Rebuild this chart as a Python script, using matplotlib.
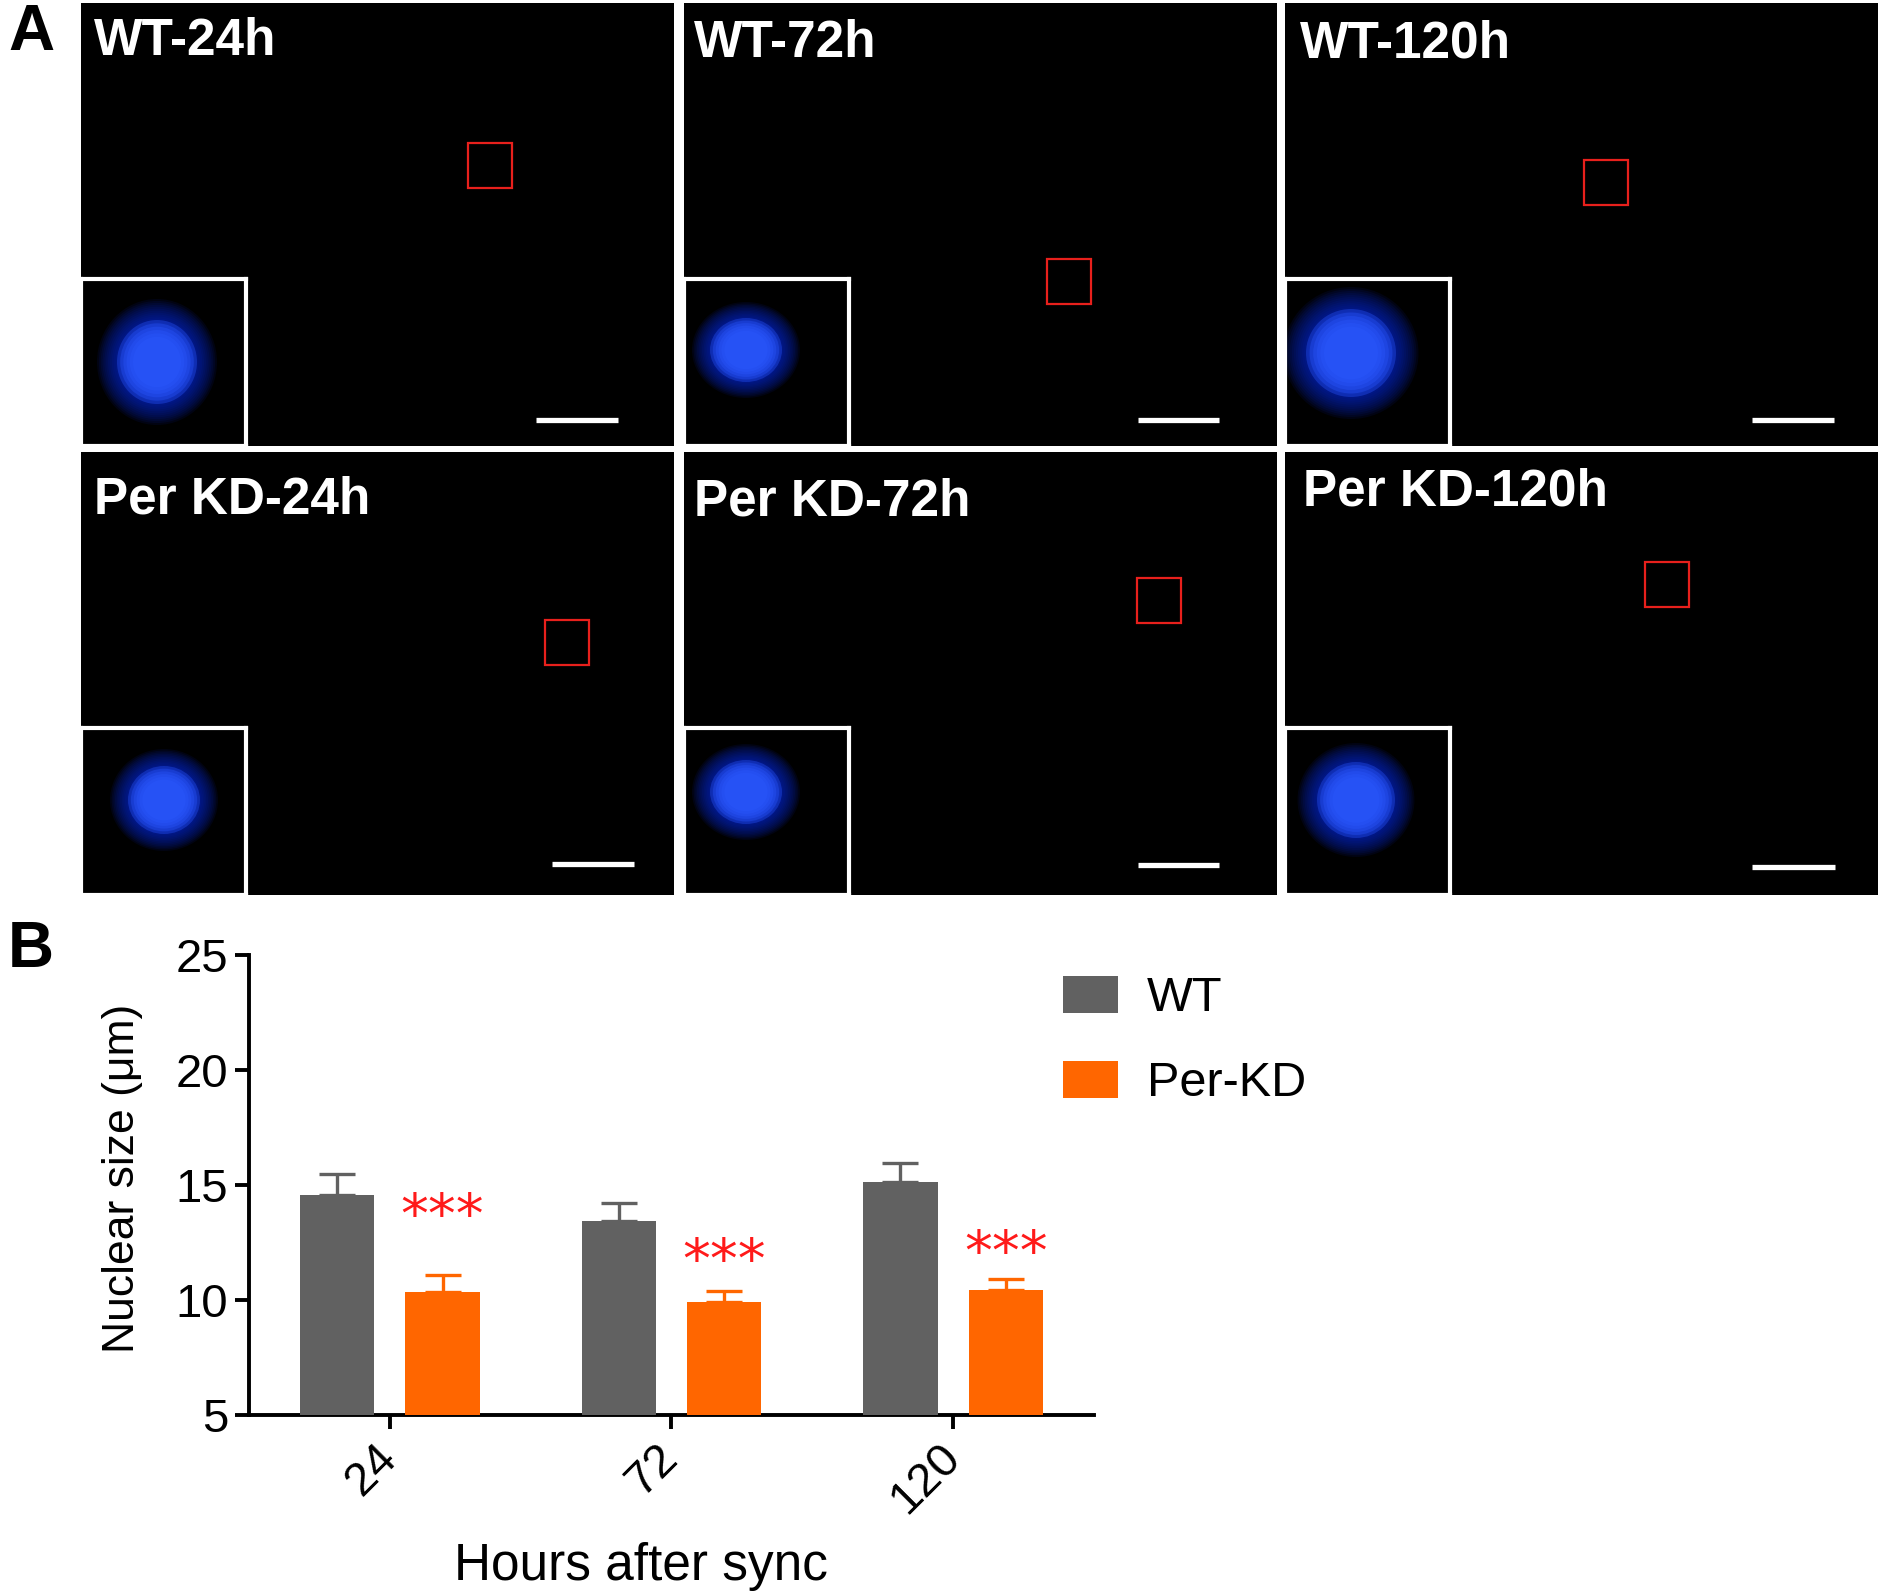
import numpy as np
import matplotlib
matplotlib.use('Agg')
from matplotlib import pyplot as plt
from matplotlib import patches as mpatches

# data
hours = ['24', '72', '120']
groups = ['WT', 'Per-KD']
wt_mean = [14.55, 13.42, 15.14]
wt_sem = [0.95, 0.80, 0.80]
kd_mean = [10.33, 9.90, 10.43]
kd_sem = [0.76, 0.50, 0.47]
star_y = [14.1, 12.15, 12.5]
star_text = ['***', '***', '***']

panel_titles = ['WT-24h', 'WT-72h', 'WT-120h',
                'Per KD-24h', 'Per KD-72h', 'Per KD-120h']

# ---- layout (pixels of the 1882x1594 canvas) ----
W, H = 1882, 1594
cols = [(81, 674), (684, 1277), (1285, 1878)]
rows = [(3, 446), (452, 895)]
# per panel: title pos, red box corner, scale bar (x0, x1, y), nucleus (cx, cy, rx, ry)
title_pos = [(13, 52), (10, 54), (15, 54), (13, 61), (10, 64), (18, 53)]
box_pos = [(387, 140), (363, 256), (299, 157), (464, 168), (453, 126), (360, 110)]
bar_pos = [(455, 537, 417), (454, 535, 417), (467, 549, 417),
           (471, 553, 412), (454, 535, 413), (467, 550, 415)]
nuc = [(76, 83, 40, 42), (62, 71, 36, 32), (66, 74, 45, 44),
       (83, 72, 36, 34), (62, 64, 36, 32), (71, 72, 39, 38)]
INSET_W, INSET_H = 165, 167

GREY = '#616161'
ORANGE = '#ff6600'
RED = '#ff1a1a'


def fbox(x0, y0, x1, y1):
    return [x0 / W, 1 - y1 / H, (x1 - x0) / W, (y1 - y0) / H]


fig = plt.figure(figsize=(W / 100, H / 100), dpi=100)
fig.patch.set_facecolor('white')

# ---- panel A: micrograph frames ----
for i, title in enumerate(panel_titles):
    (x0, x1), (y0, y1) = cols[i % 3], rows[i // 3]
    w, h = x1 - x0, y1 - y0
    ax = fig.add_axes(fbox(x0, y0, x1, y1))
    ax.set_facecolor('black')
    ax.set_xlim(0, w)
    ax.set_ylim(h, 0)
    ax.set_xticks([])
    ax.set_yticks([])
    for s in ax.spines.values():
        s.set_visible(False)

    tx, ty = title_pos[i]
    ax.text(tx, ty, title, color='white', fontsize=37, fontweight='bold',
            family=['Liberation Sans', 'DejaVu Sans'], va='baseline', ha='left')
    bx, by = box_pos[i]
    ax.add_patch(mpatches.Rectangle((bx, by), 44, 45, fill=False,
                                    edgecolor='#e8201c', lw=1.6))
    sx0, sx1, sy = bar_pos[i]
    ax.plot([sx0, sx1], [sy, sy], color='white', lw=3.8, solid_capstyle='butt')

    # zoomed nucleus inset
    ins = fig.add_axes(fbox(x0, y1 - INSET_H, x0 + INSET_W, y1))
    ins.set_facecolor('black')
    ins.set_xlim(0, INSET_W)
    ins.set_ylim(INSET_H, 0)
    ins.set_xticks([])
    ins.set_yticks([])
    for s in ins.spines.values():
        s.set_color('white')
        s.set_linewidth(3)
    cx, cy, rx, ry = nuc[i]
    # soft halo, then the stained core
    for k in np.linspace(1.5, 0.9, 14):
        ins.add_patch(mpatches.Ellipse((cx, cy), 2 * rx * k, 2 * ry * k,
                                       color='#0c28d0', alpha=0.09, lw=0))
    for k in np.linspace(1.0, 0.6, 6):
        ins.add_patch(mpatches.Ellipse((cx, cy), 2 * rx * k, 2 * ry * k,
                                       color='#2a58ff', alpha=0.35, lw=0))

fig.text(8 / W, 1 - 50 / H, 'A', fontsize=46, fontweight='bold',
         family=['Liberation Sans', 'DejaVu Sans'], va='baseline')
fig.text(8 / W, 1 - 967 / H, 'B', fontsize=46, fontweight='bold',
         family=['Liberation Sans', 'DejaVu Sans'], va='baseline')

# ---- panel B: bar chart ----
plt.rcParams['font.family'] = ['Liberation Sans', 'DejaVu Sans']
ax = fig.add_axes(fbox(249, 955, 1094, 1415))
x = np.arange(len(hours))
off, bw = 0.187, 0.263
ax.bar(x - off, wt_mean, bw, color=GREY, label=groups[0], zorder=3)
ax.bar(x + off, kd_mean, bw, color=ORANGE, label=groups[1], zorder=3)
ax.errorbar(x - off, wt_mean, yerr=[np.zeros(3), wt_sem], fmt='none', ecolor=GREY,
            elinewidth=2.4, capsize=13, capthick=2.4, zorder=2)
ax.errorbar(x + off, kd_mean, yerr=[np.zeros(3), kd_sem], fmt='none', ecolor=ORANGE,
            elinewidth=2.4, capsize=13, capthick=2.4, zorder=2)
for xi, yi, st in zip(x + off, star_y, star_text):
    ax.annotate(st, (xi, yi), xytext=(0, -9), textcoords='offset points',
                color=RED, fontsize=40, ha='center', va='center', family='DejaVu Sans')

ax.set_xlim(-0.5, 2.5)
ax.set_ylim(5, 25)
ax.set_yticks([5, 10, 15, 20, 25])
ax.set_xticks(x)
ax.set_xticklabels(hours, rotation=45, ha='right', va='center', rotation_mode='anchor')
ax.tick_params(axis='both', direction='out', length=10, width=2.8, labelsize=34, pad=5)
ax.tick_params(axis='x', pad=16)
for s in ['top', 'right']:
    ax.spines[s].set_visible(False)
for s in ['left', 'bottom']:
    ax.spines[s].set_linewidth(2.8)

ax.set_ylabel('Nuclear size (μm)', fontsize=32)
ax.yaxis.set_label_coords((143 - 249) / 845, (1415 - 1178) / 460)
ax.set_xlabel('Hours after sync', fontsize=37)
ax.xaxis.set_label_coords((641 - 249) / 845, (1415 - 1580) / 460)
ax.xaxis.label.set_va('baseline')

ax.legend(loc='upper left', bbox_to_anchor=(1063 / W, 1 - 976 / H),
          bbox_transform=fig.transFigure, frameon=False, fontsize=35,
          handlelength=1.13, handleheight=0.78, handletextpad=0.6,
          labelspacing=0.82, borderpad=0, borderaxespad=0)

fig.savefig('out.png', dpi=100, facecolor='white')
